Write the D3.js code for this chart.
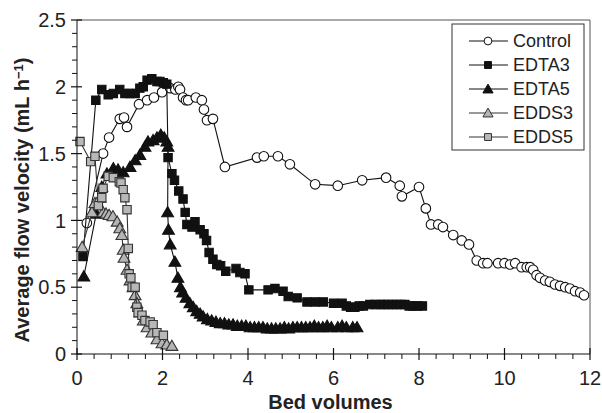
<!DOCTYPE html>
<html>
<head>
<meta charset="utf-8">
<script src="https://cdn.jsdelivr.net/npm/d3@7"></script>
<style>
  body { margin: 0; background: #fff; }
  svg { font-family: "Liberation Sans", Arial, sans-serif; }
  .tickLabel { font-size: 20px; fill: #222; }
  .axisTitle { font-size: 20px; font-weight: bold; fill: #222; }
  .legendText { font-size: 18px; fill: #222; }
</style>
</head>
<body>
<svg id="chart-svg" width="602" height="413"></svg>
<script>
////////////////////////////////////////////////////////////////////////////////
// Data: [bed volumes, average flow velocity]
var controlData = [[0.23,0.98],[0.61,1.50],[0.75,1.62],[1.0,1.76],[1.1,1.77],[1.17,1.70],[1.45,1.87],
  [1.64,1.90],[1.8,1.92],[1.99,1.96],[2.18,1.99],[2.3,1.98],[2.37,2.0],[2.41,1.98],[2.48,1.92],[2.55,1.90],
  [2.6,1.90],[2.78,1.92],[2.92,1.90],[2.97,1.83],[3.04,1.75],[3.18,1.76],[3.46,1.40],[4.21,1.47],[4.37,1.48],
  [4.7,1.48],[4.98,1.42],[5.57,1.27],[6.1,1.26],[6.67,1.30],[7.23,1.32],[7.55,1.26],[7.6,1.18],[8.0,1.25],
  [8.16,1.09],[8.28,0.97],[8.45,0.97],[8.56,0.95],[8.8,0.89],[9.0,0.85],[9.17,0.82],[9.35,0.70],[9.5,0.68],
  [9.6,0.68],[9.85,0.68],[10.0,0.68],[10.13,0.67],[10.25,0.68],[10.4,0.65],[10.52,0.65],[10.6,0.65],
  [10.67,0.63],[10.75,0.59],[10.83,0.57],[10.95,0.55],[11.06,0.54],[11.18,0.52],[11.3,0.51],[11.42,0.50],
  [11.53,0.49],[11.65,0.47],[11.77,0.46],[11.86,0.44]];
var edta3Data = [[0.14,0.73],[0.44,1.90],[0.58,1.98],[0.73,1.94],[0.85,1.95],[1.0,1.98],[1.12,1.95],
  [1.24,1.95],[1.36,1.95],[1.47,1.99],[1.55,2.0],[1.64,2.05],[1.75,2.06],[1.87,2.04],[1.94,2.04],[2.02,2.03],
  [2.1,2.02],[2.13,1.47],[2.22,1.35],[2.28,1.30],[2.38,1.22],[2.48,1.16],[2.53,1.06],[2.57,0.97],[2.69,0.95],
  [2.76,0.99],[2.88,0.93],[2.97,0.90],[3.03,0.85],[3.09,0.76],[3.18,0.71],[3.27,0.67],[3.36,0.66],[3.48,0.62],
  [3.72,0.64],[3.81,0.61],[3.93,0.60],[4.02,0.48],[4.47,0.48],[4.63,0.49],[4.82,0.47],[4.94,0.43],[5.15,0.42],
  [5.38,0.39],[5.57,0.39],[5.76,0.39],[6.0,0.38],[6.2,0.38],[6.3,0.36],[6.4,0.35],[6.5,0.35],[6.6,0.36],
  [6.7,0.36],[6.85,0.37],[6.97,0.37],[7.09,0.37],[7.18,0.37],[7.28,0.37],[7.38,0.37],[7.48,0.37],[7.58,0.37],
  [7.67,0.37],[7.77,0.36],[7.86,0.36],[7.97,0.36],[8.08,0.36]];
var edta5Data = [[0.16,0.58],[0.45,1.05],[0.58,1.25],[0.7,1.35],[0.85,1.39],[0.96,1.38],[1.08,1.36],
  [1.24,1.40],[1.36,1.45],[1.47,1.49],[1.59,1.55],[1.66,1.59],[1.78,1.60],[1.87,1.62],[1.96,1.64],[2.04,1.62],
  [2.1,1.59],[2.13,1.55],[2.12,1.06],[2.14,0.93],[2.18,0.82],[2.29,0.69],[2.36,0.57],[2.42,0.50],[2.47,0.46],
  [2.55,0.42],[2.64,0.38],[2.72,0.35],[2.8,0.32],[2.88,0.30],[2.95,0.28],[3.05,0.26],[3.15,0.25],[3.25,0.24],
  [3.35,0.23],[3.45,0.23],[3.55,0.22],[3.65,0.22],[3.75,0.21],[3.85,0.21],[3.95,0.21],[4.05,0.20],[4.15,0.20],
  [4.25,0.20],[4.35,0.20],[4.45,0.19],[4.55,0.19],[4.65,0.19],[4.75,0.19],[4.85,0.20],[4.95,0.19],[5.05,0.20],
  [5.15,0.20],[5.25,0.20],[5.35,0.20],[5.45,0.20],[5.55,0.21],[5.65,0.20],[5.75,0.20],[5.85,0.21],[5.95,0.20],
  [6.1,0.20],[6.2,0.21],[6.3,0.20],[6.45,0.20],[6.55,0.20]];
var edds3Data = [[0.12,0.80],[0.35,1.06],[0.42,1.13],[0.54,1.17],[0.61,1.06],[0.68,1.05],[0.75,1.04],
  [0.84,1.03],[0.94,0.99],[1.0,0.94],[1.05,0.89],[1.08,0.78],[1.1,0.72],[1.17,0.63],[1.24,0.55],[1.31,0.50],
  [1.36,0.44],[1.40,0.38],[1.47,0.31],[1.55,0.25],[1.64,0.20],[1.75,0.16],[1.87,0.11],[1.99,0.08],[2.1,0.07],
  [2.22,0.06]];
var edds5Data = [[0.07,1.59],[0.32,1.44],[0.42,1.48],[0.5,1.11],[0.58,1.17],[0.61,1.24],[0.73,1.33],
  [0.85,1.32],[0.99,1.29],[1.03,1.28],[1.08,1.23],[1.12,1.17],[1.17,1.08],[1.2,0.79],[1.22,0.60],[1.26,0.57],
  [1.29,0.50],[1.36,0.50],[1.40,0.35],[1.43,0.31],[1.52,0.29],[1.59,0.25],[1.71,0.24],[1.78,0.22],[1.87,0.16],
  [2.02,0.14]];

var seriesNames = ["Control", "EDTA3", "EDTA5", "EDDS3", "EDDS5"];
var xTicks = [0, 2, 4, 6, 8, 10, 12];
var yTicks = [0, 0.5, 1, 1.5, 2, 2.5];

////////////////////////////////////////////////////////////////////////////////
const svg = d3.select("#chart-svg");
var plotLeft = 77, plotRight = 590, plotTop = 20, plotBottom = 354;

var x = d3.scaleLinear().domain([0, 12]).range([plotLeft, plotRight]);
var y = d3.scaleLinear().domain([0, 2.5]).range([plotBottom, plotTop]);

// marker styles for each series
var styles = [
  { data: controlData, shape: "circle",   fill: "#fff",    stroke: "#111" },
  { data: edta3Data,   shape: "square",   fill: "#111",    stroke: "#111" },
  { data: edta5Data,   shape: "triangle", fill: "#111",    stroke: "#111" },
  { data: edds3Data,   shape: "triangle", fill: "#b4b4b4", stroke: "#333" },
  { data: edds5Data,   shape: "square",   fill: "#b8b8b8", stroke: "#333" }
];
var symbolTypes = { circle: d3.symbolCircle, square: d3.symbolSquare, triangle: d3.symbolTriangle };

// frame (top and right)
svg.append("path")
   .attr("d", "M" + plotLeft + "," + plotTop + "H" + plotRight + "V" + plotBottom)
   .attr("fill", "none").attr("stroke", "#555").attr("stroke-width", 1);

// series
var line = d3.line().x(function(d) { return x(d[0]); }).y(function(d) { return y(d[1]); });
styles.forEach(function(s) {
  var g = svg.append("g");
  g.append("path")
   .datum(s.data)
   .attr("d", line)
   .attr("fill", "none")
   .attr("stroke", s.stroke)
   .attr("stroke-width", 1.1);
  var size = s.shape == "circle" ? 72 : (s.shape == "square" ? 70 : 60);
  g.selectAll("path.pt")
   .data(s.data)
   .enter()
   .append("path")
   .attr("class", "pt")
   .attr("transform", function(d) { return "translate(" + x(d[0]) + "," + (y(d[1]) + (s.shape == "triangle" ? 1 : 0)) + ")"; })
   .attr("d", d3.symbol().type(symbolTypes[s.shape]).size(size))
   .attr("fill", s.fill)
   .attr("stroke", s.stroke)
   .attr("stroke-width", 1.1);
});

// axes
var gx = svg.append("g").attr("transform", "translate(0," + plotBottom + ")");
gx.append("line").attr("x1", plotLeft).attr("x2", plotRight).attr("stroke", "#111");
gx.selectAll(".minor")
  .data(d3.range(0, 12.01, 0.4).filter(function(v) { return Math.abs(v/2 - Math.round(v/2)) > 0.01; }))
  .enter().append("line")
  .attr("x1", function(d) { return x(d); }).attr("x2", function(d) { return x(d); })
  .attr("y1", 0).attr("y2", 5).attr("stroke", "#111");
gx.selectAll(".major")
  .data(xTicks)
  .enter().append("line")
  .attr("x1", function(d) { return x(d); }).attr("x2", function(d) { return x(d); })
  .attr("y1", -6).attr("y2", 6).attr("stroke", "#111").attr("stroke-width", 1.2);
gx.selectAll(".tickLabel")
  .data(xTicks)
  .enter().append("text")
  .attr("class", "tickLabel")
  .attr("x", function(d) { return x(d); })
  .attr("y", 31)
  .attr("text-anchor", "middle")
  .text(function(d) { return d; });

var gy = svg.append("g").attr("transform", "translate(" + plotLeft + ",0)");
gy.append("line").attr("y1", plotTop).attr("y2", plotBottom).attr("stroke", "#111");
gy.selectAll(".minor")
  .data(d3.range(0, 2.501, 0.1).filter(function(v) { return Math.abs(v*2 - Math.round(v*2)) > 0.01; }))
  .enter().append("line")
  .attr("y1", function(d) { return y(d); }).attr("y2", function(d) { return y(d); })
  .attr("x1", -5).attr("x2", 0).attr("stroke", "#111");
gy.selectAll(".major")
  .data(yTicks)
  .enter().append("line")
  .attr("y1", function(d) { return y(d); }).attr("y2", function(d) { return y(d); })
  .attr("x1", -6).attr("x2", 5).attr("stroke", "#111").attr("stroke-width", 1.2);
gy.selectAll(".tickLabel")
  .data(yTicks)
  .enter().append("text")
  .attr("class", "tickLabel")
  .attr("x", -11)
  .attr("y", function(d) { return y(d); })
  .attr("dy", "0.36em")
  .attr("text-anchor", "end")
  .text(function(d) { return d; });

// axis titles
svg.append("text")
   .attr("class", "axisTitle")
   .attr("x", (plotLeft + plotRight) / 2 - 3)
   .attr("y", 409)
   .attr("text-anchor", "middle")
   .text("Bed volumes");
var yTitle = svg.append("text")
   .attr("class", "axisTitle")
   .attr("transform", "translate(29,200) rotate(-90)")
   .attr("text-anchor", "middle");
yTitle.append("tspan").text("Average flow velocity (mL h");
yTitle.append("tspan").attr("font-size", "13px").attr("dy", "-0.5em").text("\u22121");
yTitle.append("tspan").attr("dy", "0.33em").text(")");

// legend
var lg = svg.append("g");
lg.append("rect")
  .attr("x", 452).attr("y", 24).attr("width", 132).attr("height", 126)
  .attr("fill", "#fff").attr("stroke", "#333").attr("stroke-width", 1);
seriesNames.forEach(function(name, i) {
  var s = styles[i], cy = 41 + i * 24;
  lg.append("line").attr("x1", 469).attr("x2", 508).attr("y1", cy).attr("y2", cy)
    .attr("stroke", s.stroke).attr("stroke-width", 1.1);
  lg.append("path")
    .attr("transform", "translate(488," + (cy + (s.shape == "triangle" ? 1 : 0)) + ")")
    .attr("d", d3.symbol().type(symbolTypes[s.shape]).size(s.shape == "triangle" ? 45 : 48))
    .attr("fill", s.fill).attr("stroke", s.stroke).attr("stroke-width", 1);
  lg.append("text").attr("class", "legendText")
    .attr("x", 513).attr("y", cy).attr("dy", "0.36em")
    .text(name);
});
</script>
</body>
</html>
